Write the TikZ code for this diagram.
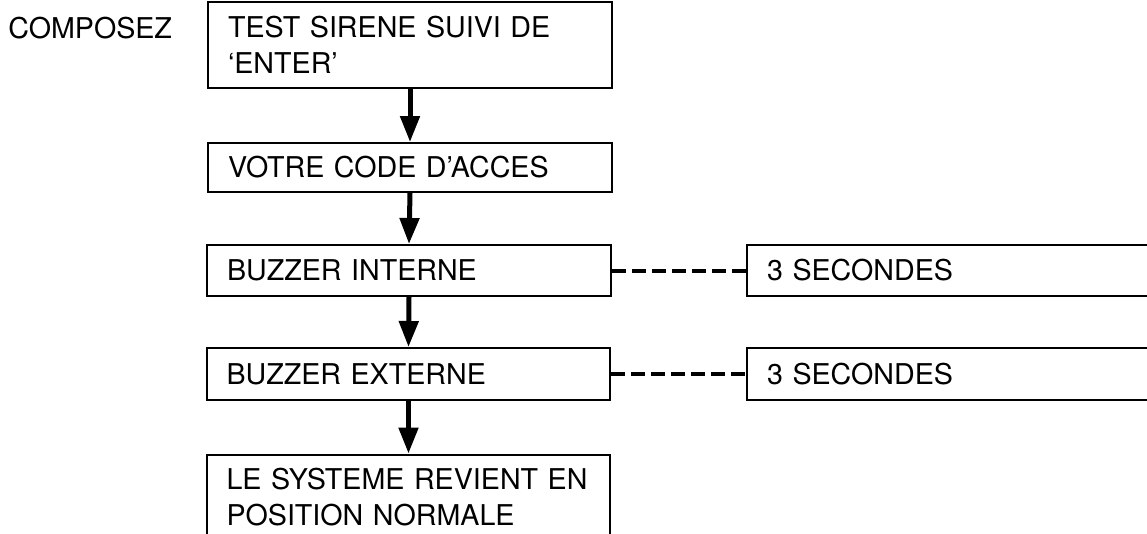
\documentclass[tikz,border=0pt]{standalone}
\usepackage{fontspec}
\setmainfont{TeX Gyre Heros}
\usetikzlibrary{arrows.meta}
\tikzset{
  etape/.style={draw,line width=0.04cm,minimum width=8.08cm,inner xsep=0.4cm,text width=7.28cm,align=left,font=\fontsize{16.3}{20.5}\selectfont},
  fleche/.style={line width=0.1cm,-{Triangle[length=0.52cm,width=0.38cm]}},
  tirets/.style={line width=0.08cm,dash pattern=on 0.28cm off 0.12cm}
}
\begin{document}
\begin{tikzpicture}[x=0.02cm,y=-0.02cm]
\useasboundingbox (0,0) rectangle (1147,534);
\node[anchor=west,inner sep=0,font=\fontsize{16.3}{20.5}\selectfont] (composez) at (8,28) {COMPOSEZ};
\node[etape,minimum height=1.72cm] (test) at (410,45) {TEST SIRENE SUIVI DE\\`ENTER'};
\node[etape,minimum height=0.98cm] (code) at (410,167.5) {VOTRE CODE D'ACCES};
\node[etape,minimum height=1.02cm] (interne) at (409,270.5) {BUZZER INTERNE};
\node[etape,minimum height=1.04cm] (externe) at (408.5,374) {BUZZER EXTERNE};
\node[etape,minimum height=1.72cm] (normale) at (408.5,497.5) {LE SYSTEME REVIENT EN\\POSITION NORMALE};
\node[etape,minimum height=1.02cm] (sec1) at (949,270.5) {3 SECONDES};
\node[etape,minimum height=1.04cm] (sec2) at (949,374) {3 SECONDES};
% fleches
\draw[fleche] (test.south) -- (code.north);
\draw[fleche] (code.south) -- (interne.north);
\draw[fleche] (interne.south) -- (externe.north);
\draw[fleche] (externe.south) -- (normale.north);
% durees
\foreach \a/\b in {interne/sec1,externe/sec2}{
\draw[tirets] (\a.east) -- (\b.west);
}
\end{tikzpicture}
\end{document}
